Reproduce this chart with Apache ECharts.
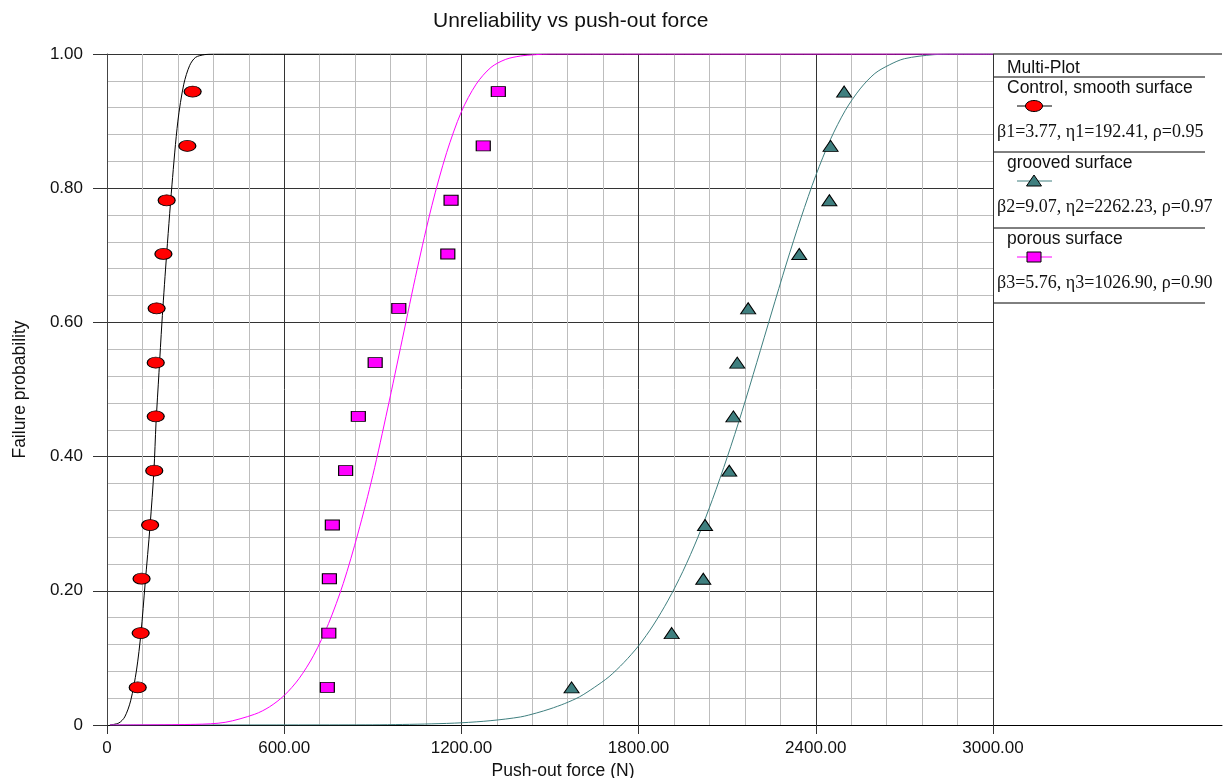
<!DOCTYPE html>
<html><head><meta charset="utf-8">
<script src="https://cdn.jsdelivr.net/npm/echarts@6/dist/echarts.min.js"></script>
<style>html,body{margin:0;padding:0;background:#fff}#c{width:1225px;height:778px}</style>
</head><body><div id="c"></div><script>
// ---- data ----
const probs = [0.056,0.137,0.218,0.298,0.379,0.460,0.540,0.621,0.702,0.782,0.863,0.944];
const controlForce = [104,114,117,146,160,165,165,168,191,202,272,290];
const groovedForce = [1573,1912,2019,2025,2107,2121,2134,2171,2344,2446,2450,2496];
const porousForce  = [746,751,753,763,808,851,908,988,1154,1165,1274,1325];

// fitted curves, sampled along the drawn lines
const controlCurveX = [10,40,60,80,100,115,129,146,159,166,176,186,200,220,240,260,280,300,330,360,3000];
const controlCurveY = [0,0.003,0.012,0.036,0.082,0.137,0.21,0.298,0.38,0.45,0.525,0.60,0.69,0.805,0.90,0.955,0.983,0.995,0.999,1,1];
const porousCurveX = [10,300,400,500,550,600,650,700,750,800,850,900,950,1000,1050,1100,1150,1200,1250,1300,1350,1400,1450,1500,3000];
const porousCurveY = [0,0.001,0.004,0.016,0.027,0.044,0.069,0.104,0.151,0.211,0.286,0.372,0.471,0.575,0.679,0.774,0.853,0.914,0.955,0.980,0.992,0.997,0.999,1,1];
const groovedCurveX = [10,900,1000,1100,1200,1300,1400,1455,1500,1550,1600,1650,1700,1750,1800,1850,1900,1950,2000,2050,2100,2150,2200,2250,2300,2350,2400,2450,2500,2550,2600,2650,2700,2800,2900,3000];
const groovedCurveY = [0,0.0003,0.0008,0.0017,0.0033,0.0065,0.012,0.018,0.024,0.032,0.042,0.056,0.072,0.093,0.118,0.149,0.186,0.229,0.279,0.336,0.399,0.467,0.540,0.614,0.687,0.756,0.819,0.873,0.916,0.948,0.971,0.984,0.993,0.999,1,1];

const xTicks = [0,600,1200,1800,2400,3000];
const yTicks = [0,0.2,0.4,0.6,0.8,1.0];
const seriesNames = ['Control, smooth surface','grooved surface','porous surface'];
const paramTexts = ['\u03b21=3.77, \u03b71=192.41, \u03c1=0.95','\u03b22=9.07, \u03b72=2262.23, \u03c1=0.97','\u03b23=5.76, \u03b73=1026.90, \u03c1=0.90'];
const title = 'Unreliability vs push-out force';
const xName = 'Push-out force (N)';
const yName = 'Failure probability';

// ---- build ----
const zip = (a,b) => a.map((v,i)=>[v,b[i]]);
const fmt = v => v===0 ? '0' : v.toFixed(2);
const SANS = 'Liberation Sans, Arial, sans-serif';
const SERIF = 'Liberation Serif, Times New Roman, serif';
const RED='#FF0000', TEAL='#3F7F7F', MAG='#FF00FF';

const chart = echarts.init(document.getElementById('c'), null, {renderer:'canvas'});

const legendX = 993, legendR = 1205;
const g = [];
g.push({type:'line', shape:{x1:993,y1:54,x2:1222,y2:54}, style:{stroke:'#000',lineWidth:1}});
g.push({type:'text', x:1007, y:68, style:{text:'Multi-Plot', font:'17.5px '+SANS, fill:'#111', verticalAlign:'middle'}});
[77,152,228,303].forEach(y=>g.push({type:'line', shape:{x1:legendX,y1:y,x2:legendR,y2:y}, style:{stroke:'#000',lineWidth:1}}));
const entryTop = [88,163,239];
const cols = [RED,TEAL,MAG];
entryTop.forEach((y,i)=>{
  g.push({type:'text', x:1007, y:y, style:{text:seriesNames[i], font:'17.5px '+SANS, fill:'#111', verticalAlign:'middle'}});
  const my = y+18;
  g.push({type:'line', shape:{x1:1017,y1:my,x2:1052,y2:my}, style:{stroke:i===0?'#000':cols[i],lineWidth:1}});
  if(i===0) g.push({type:'ellipse', shape:{cx:1034,cy:my,rx:8.5,ry:5.5}, style:{fill:RED,stroke:'#000',lineWidth:1}});
  if(i===1) g.push({type:'polygon', shape:{points:[[1034,my-6],[1041.5,my+5],[1026.5,my+5]]}, style:{fill:TEAL,stroke:'#000',lineWidth:1}});
  if(i===2) g.push({type:'rect', shape:{x:1027,y:my-5,width:14,height:10}, style:{fill:MAG,stroke:'#000',lineWidth:1}});
  g.push({type:'text', x:997, y:y+44, style:{text:paramTexts[i], font:'18px '+SERIF, fill:'#111', verticalAlign:'middle'}});
});

const curve = (name,xs,ys,color)=>({type:'line', name, data:zip(xs,ys), showSymbol:false, smooth:0.3,
  lineStyle:{color, width:1}, itemStyle:{color}, z:2, silent:true, xAxisIndex:0, yAxisIndex:0});
const pts = (name,xs,symbol,size,color)=>({type:'scatter', name, data:zip(xs,probs), symbol, symbolSize:size,
  itemStyle:{color, borderColor:'#000', borderWidth:1, opacity:1}, z:4, xAxisIndex:0, yAxisIndex:0});

chart.setOption({
  animation:false,
  backgroundColor:'#fff',
  title:{text:title, left:428, top:6, textStyle:{fontSize:21, fontWeight:'normal', color:'#111', fontFamily:SANS}},
  grid:[{left:107, right:232, top:54, bottom:53, containLabel:false, outerBoundsMode:'none'},
        {left:993, right:3, top:54, bottom:53, containLabel:false, outerBoundsMode:'none'}],
  xAxis:[{type:'value', gridIndex:0, min:0, max:3000, interval:600,
    name:xName, nameLocation:'middle', nameGap:36, nameTextStyle:{fontSize:17.5, color:'#111', fontFamily:SANS, padding:[0,0,0,26]},
    axisLine:{show:true, onZero:false, lineStyle:{color:'#000', width:1}},
    axisTick:{show:true, length:9, lineStyle:{color:'#333'}},
    axisLabel:{formatter:fmt, fontSize:17, color:'#111', fontFamily:SANS, margin:15},
    splitLine:{show:true, lineStyle:{color:'#333', width:1}},
    minorTick:{show:false, splitNumber:5},
    minorSplitLine:{show:true, lineStyle:{color:'#bdbdbd', width:1}}},
   {type:'value', gridIndex:1, min:0, max:1, show:true,
    axisLine:{show:true, onZero:false, lineStyle:{color:'#000', width:1}},
    axisTick:{show:false}, axisLabel:{show:false}, splitLine:{show:false}}],
  yAxis:[{type:'value', gridIndex:0, min:0, max:1, interval:0.2,
    name:yName, nameLocation:'middle', nameGap:78, nameRotate:90, nameTextStyle:{fontSize:17.5, color:'#111', fontFamily:SANS},
    axisLine:{show:true, lineStyle:{color:'#444', width:1}},
    axisTick:{show:true, length:14, lineStyle:{color:'#333'}},
    axisLabel:{formatter:fmt, fontSize:17, color:'#111', fontFamily:SANS, margin:24},
    splitLine:{show:true, lineStyle:{color:'#333', width:1}},
    minorTick:{show:false, splitNumber:5},
    minorSplitLine:{show:true, lineStyle:{color:'#bdbdbd', width:1}}},
   {type:'value', gridIndex:1, min:0, max:1, show:false}],
  series:[
    curve(seriesNames[0]+' fit', controlCurveX, controlCurveY, '#000'),
    curve(seriesNames[1]+' fit', groovedCurveX, groovedCurveY, TEAL),
    curve(seriesNames[2]+' fit', porousCurveX, porousCurveY, MAG),
    pts(seriesNames[0], controlForce, 'circle', [17,11], RED),
    pts(seriesNames[1], groovedForce, 'triangle', [15,11], TEAL),
    pts(seriesNames[2], porousForce, 'rect', [14,10], MAG)
  ],
  graphic:g
});
</script></body></html>
